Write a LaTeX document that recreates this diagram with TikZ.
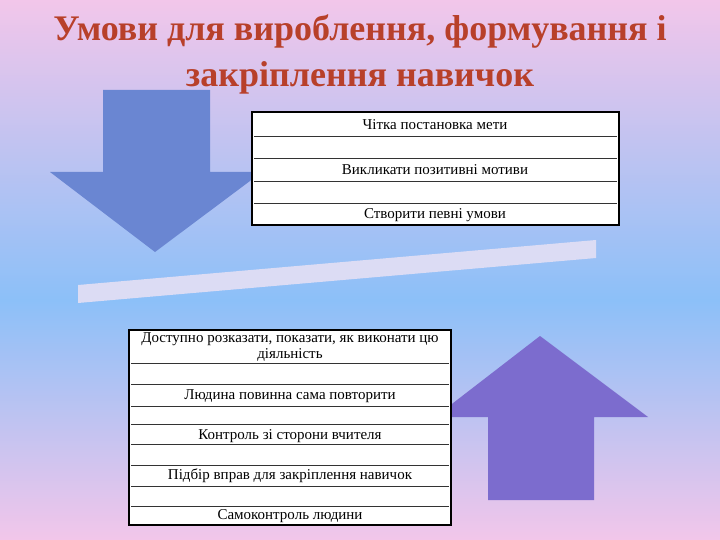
\documentclass[tikz,border=0pt]{standalone}
\usepackage{fontspec}
\setmainfont{Liberation Serif}
\begin{document}
\begin{tikzpicture}[x=1pt,y=-1pt,
  cell/.style={font=\fontsize{15}{16}\selectfont, align=center, inner sep=0pt},
  frame/.style={draw=black, line width=2.5pt, fill=white},
  rowline/.style={draw=black!80, line width=0.8pt},
  ttl/.style={font=\fontsize{36}{38}\bfseries\selectfont, text=titlec, inner sep=0pt}]
\definecolor{pinkbg}{HTML}{F2C6EA}
\definecolor{bluebg}{HTML}{8CC0F8}
\definecolor{downc}{HTML}{6A86D2}
\definecolor{upc}{HTML}{7C6CCE}
\definecolor{barc}{HTML}{DCDCF4}
\definecolor{titlec}{HTML}{B8402A}
\useasboundingbox (0,0) rectangle (720,540);
\shade[top color=pinkbg, bottom color=bluebg] (0,0) rectangle (720,300);
\shade[top color=bluebg, bottom color=pinkbg] (0,300) rectangle (720,540);
% down arrow
\fill[downc] (103,90) -- (210,90) -- (210,172) -- (262,172) -- (155,252) -- (50,172) -- (103,172) -- cycle;
% title
\node[ttl] (t1) at (360,32) {Умови для вироблення, формування і};
\node[ttl] (t2) at (360,78) {закріплення навичок};
% up arrow
\fill[upc] (540,336) -- (648,417) -- (594,417) -- (594,500) -- (488,500) -- (488,417) -- (435,417) -- cycle;
% bar
\fill[barc] (78,285) -- (596,240) -- (596,258) -- (78,303) -- cycle;
% top table
\draw[frame] (252,112) rectangle (619,225);
\foreach \y in {136,158,181,203} \draw[rowline] (254,\y) -- (617,\y);
\node[cell] (a1) at (435,125) {Чітка постановка мети};
\node[cell] (a2) at (435,170) {Викликати позитивні мотиви};
\node[cell] (a3) at (435,215) {Створити певні умови};
% bottom table
\draw[frame] (129,330) rectangle (451,525);
\foreach \y in {363,384,406,424,444,465,486,506} \draw[rowline] (131,\y) -- (449,\y);
\node[cell] (b1) at (290,347) {Доступно розказати, показати, як виконати цю\\діяльність};
\node[cell] (b2) at (290,396) {Людина повинна сама повторити};
\node[cell] (b3) at (290,436) {Контроль зі сторони вчителя};
\node[cell] (b4) at (290,476) {Підбір вправ для закріплення навичок};
\node[cell] (b5) at (290,516) {Самоконтроль людини};
\end{tikzpicture}
\end{document}
